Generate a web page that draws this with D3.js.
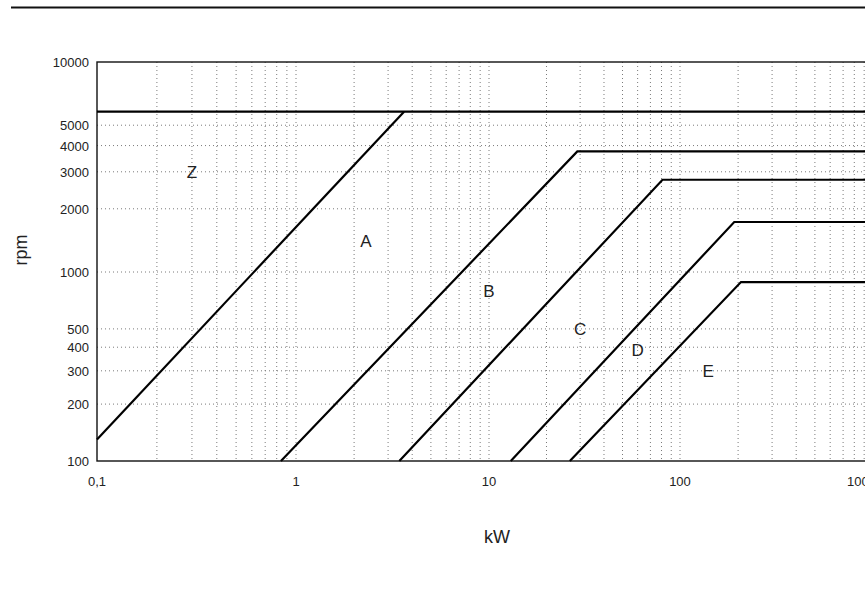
<!DOCTYPE html>
<html>
<head>
<meta charset="utf-8">
<script src="https://cdn.jsdelivr.net/npm/d3@7"></script>
<style>
  body { margin: 0; background: #fff; }
  svg { display: block; font-family: "Liberation Sans", Arial, sans-serif; }
</style>
</head>
<body>
<div id="chart"></div>
<script>
'use strict';

// zone boundaries, as [kW, rpm] points: start, knee, end of plateau
var topLimit = [[0.1, 5800], [1000, 5800]];
var lineZA = [[0.1, 130], [3.63, 5800]];
var lineAB = [[0.84, 100], [29, 3750], [1000, 3750]];
var lineBC = [[3.43, 100], [81, 2750], [1000, 2750]];
var lineCD = [[13, 100], [191, 1730], [1000, 1730]];
var lineDE = [[26.5, 100], [207, 885], [1000, 885]];

// zone letters and where they sit
var zoneNames = ['Z', 'A', 'B', 'C', 'D', 'E'];
var zoneKw = [0.3, 2.3, 10, 30, 60, 140];
var zoneRpm = [3000, 1400, 790, 500, 386, 300];

var xTicks = [0.1, 1, 10, 100, 1000];
var xTickLabels = ['0,1', '1', '10', '100', '1000'];
var yTicks = [100, 200, 300, 400, 500, 1000, 2000, 3000, 4000, 5000, 10000];
var yGridValues = [200, 300, 400, 500, 1000, 2000, 3000, 4000, 5000];

var width = 865;
var height = 590;
var tickFontSize = 13;
var titleFontSize = 18;
var gridColor = "#7a7a7a";

// the scanned chart has slightly uneven decades, so the scales are piecewise
var x = d3.scaleLog().domain([0.1, 1, 10, 100, 1000]).range([97, 296, 489, 680, 873]);
var y = d3.scaleLog().domain([100, 1000, 10000]).range([461, 272, 62]);

var svg = d3.select("#chart").append("svg")
    .attr("width", width)
    .attr("height", height);

// rule across the top of the page
svg.append("line")
    .attr("x1", 11)
    .attr("x2", width)
    .attr("y1", 7.5)
    .attr("y2", 7.5)
    .style("stroke", "#111")
    .style("stroke-width", 2);

// grid
svg.selectAll("vgrid")
    .data(x.ticks().filter(function(d) { return d > 0.1 && d < 1000; }))
    .enter()
    .append("line")
    .attr("x1", function(d) { return x(d); })
    .attr("x2", function(d) { return x(d); })
    .attr("y1", y(10000))
    .attr("y2", y(100))
    .style("stroke", gridColor)
    .style("stroke-width", 1)
    .style("stroke-dasharray", "1,3");

svg.selectAll("hgrid")
    .data(yGridValues)
    .enter()
    .append("line")
    .attr("x1", x(0.1))
    .attr("x2", x(1000))
    .attr("y1", function(d) { return y(d); })
    .attr("y2", function(d) { return y(d); })
    .style("stroke", gridColor)
    .style("stroke-width", 1)
    .style("stroke-dasharray", "1,3");

// frame
svg.append("rect")
    .attr("x", x(0.1))
    .attr("y", y(10000))
    .attr("width", x(1000) - x(0.1))
    .attr("height", y(100) - y(10000))
    .style("fill", "none")
    .style("stroke", "#111")
    .style("stroke-width", 1.4);

// tick labels
svg.selectAll("ylabel")
    .data(yTicks)
    .enter()
    .append("text")
    .attr("x", x(0.1) - 8)
    .attr("y", function(d) { return y(d) + 5; })
    .attr("text-anchor", "end")
    .style("font-size", tickFontSize + "px")
    .style("fill", "#222")
    .text(function(d) { return d; });

svg.selectAll("xlabel")
    .data(xTicks)
    .enter()
    .append("text")
    .attr("x", function(d, i) { return i === xTicks.length - 1 ? x(d) + 3 : x(d); })
    .attr("y", y(100) + 25)
    .attr("text-anchor", function(d, i) { return i === xTicks.length - 1 ? "end" : "middle"; })
    .style("font-size", tickFontSize + "px")
    .style("fill", "#222")
    .text(function(d, i) { return xTickLabels[i]; });

// axis titles
svg.append("text")
    .attr("transform", "translate(27,250) rotate(-90)")
    .attr("text-anchor", "middle")
    .style("font-size", titleFontSize + "px")
    .style("fill", "#222")
    .text("rpm");

svg.append("text")
    .attr("x", 497)
    .attr("y", 543)
    .attr("text-anchor", "middle")
    .style("font-size", titleFontSize + "px")
    .style("fill", "#222")
    .text("kW");

// zone boundaries
var line = d3.line()
    .x(function(d) { return x(d[0]); })
    .y(function(d) { return y(d[1]); });

svg.selectAll("limit")
    .data([topLimit, lineZA, lineAB, lineBC, lineCD, lineDE])
    .enter()
    .append("path")
    .attr("d", line)
    .style("fill", "none")
    .style("stroke", "#000")
    .style("stroke-width", 2.2);

// zone letters
svg.selectAll("zone")
    .data(zoneNames)
    .enter()
    .append("text")
    .attr("x", function(d, i) { return x(zoneKw[i]); })
    .attr("y", function(d, i) { return y(zoneRpm[i]); })
    .attr("dy", "0.36em")
    .attr("text-anchor", "middle")
    .style("font-size", "17px")
    .style("fill", "#222")
    .text(function(d) { return d; });
</script>
</body>
</html>
